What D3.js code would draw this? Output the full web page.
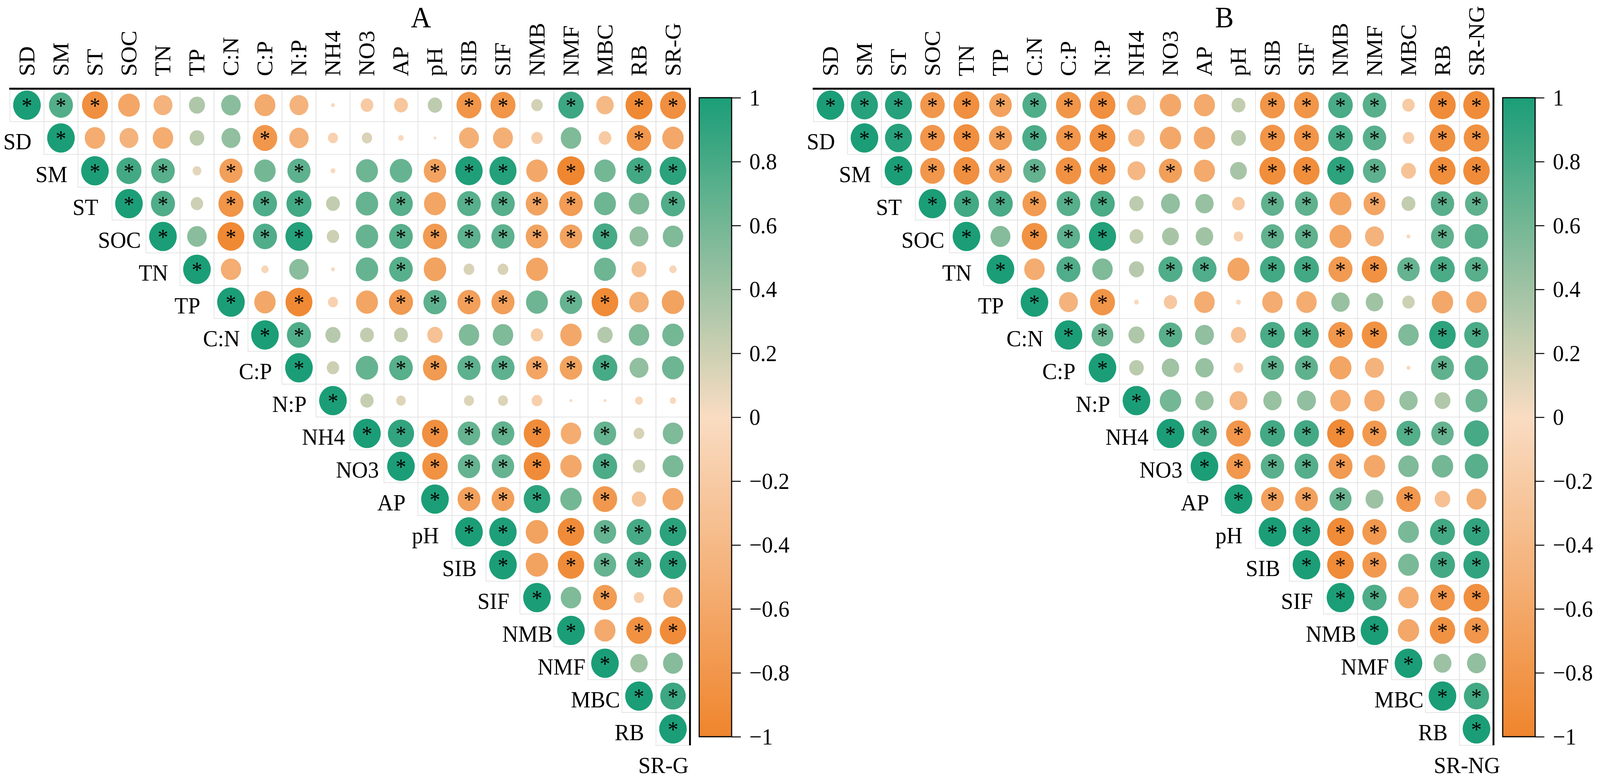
<!DOCTYPE html>
<html>
<head>
<meta charset="utf-8">
<script src="https://cdn.jsdelivr.net/npm/d3@7"></script>
<style>
  html, body { margin: 0; padding: 0; background: #fff; overflow: hidden; }
  svg { display: block; width: 100vw; height: 100vh; }
</style>
</head>
<body>
<script>
// variable names (columns), the last one differs per panel
varsA = ["SD","SM","ST","SOC","TN","TP","C:N","C:P","N:P","NH4","NO3","AP","pH","SIB","SIF","NMB","NMF","MBC","RB","SR-G"]
varsB = ["SD","SM","ST","SOC","TN","TP","C:N","C:P","N:P","NH4","NO3","AP","pH","SIB","SIF","NMB","NMF","MBC","RB","SR-NG"]

// upper triangle, row r starts at column r (diagonal)
corrA = [
  [1, 0.75, -0.88, -0.62, -0.47, 0.34, 0.5, -0.57, -0.47, -0.02, -0.21, -0.25, 0.27, -0.82, -0.82, 0.17, 0.85, -0.4, -0.95, -0.88],
  [1, -0.55, -0.47, -0.55, 0.28, 0.47, -0.79, -0.49, -0.13, 0.14, -0.04, -0.01, -0.52, -0.52, -0.17, 0.55, -0.21, -0.79, -0.6],
  [1, 0.82, 0.73, 0.1, -0.7, 0.6, 0.7, -0.03, 0.63, 0.66, -0.66, 0.98, 0.96, -0.6, -0.98, 0.6, 0.82, 0.93],
  [1, 0.76, 0.2, -0.82, 0.76, 0.82, 0.25, 0.66, 0.73, -0.63, 0.73, 0.73, -0.66, -0.73, 0.63, 0.55, 0.76],
  [1, 0.5, -0.95, 0.76, 0.96, 0.2, 0.66, 0.73, -0.76, 0.7, 0.7, -0.66, -0.66, 0.8, 0.47, 0.55],
  [1, -0.54, -0.07, 0.5, -0.02, 0.66, 0.73, -0.66, 0.15, 0.15, -0.63, 0, 0.63, -0.29, -0.07],
  [1, -0.6, -0.95, -0.13, -0.63, -0.76, 0.7, -0.7, -0.7, 0.63, 0.66, -0.93, -0.5, -0.66],
  [1, 0.76, 0.3, 0.25, 0.25, -0.31, 0.55, 0.55, -0.2, -0.6, 0.31, 0.55, 0.6],
  [1, 0.2, 0.66, 0.73, -0.76, 0.7, 0.7, -0.63, -0.66, 0.8, 0.47, 0.63],
  [1, 0.23, 0.12, 0, 0.13, 0.13, -0.15, -0.01, -0.01, -0.08, -0.05],
  [1, 0.9, -0.88, 0.66, 0.68, -0.92, -0.55, 0.66, 0.15, 0.55],
  [1, -0.85, 0.66, 0.66, -0.92, -0.6, 0.78, 0.2, 0.57],
  [1, -0.68, -0.68, 0.92, 0.6, -0.78, -0.27, -0.58],
  [1, 0.98, -0.66, -0.92, 0.66, 0.8, 0.93],
  [1, -0.66, -0.92, 0.66, 0.8, 0.93],
  [1, 0.55, -0.75, -0.14, -0.5],
  [1, -0.58, -0.85, -0.92],
  [1, 0.4, 0.52],
  [1, 0.85],
  [1]
]
sigA = [
  [1,1,1,0,0,0,0,0,0,0,0,0,0,1,1,0,1,0,1,1],
  [1,0,0,0,0,0,1,0,0,0,0,0,0,0,0,0,0,1,0],
  [1,1,1,0,1,0,1,0,0,0,1,1,1,0,1,0,1,1],
  [1,1,0,1,1,1,0,0,1,0,1,1,1,1,0,0,1],
  [1,0,1,1,1,0,0,1,1,1,1,1,1,1,0,0],
  [1,0,0,0,0,0,1,0,0,0,0,0,0,0,0],
  [1,0,1,0,0,1,1,1,1,0,1,1,0,0],
  [1,1,0,0,0,0,0,0,0,0,0,0,0],
  [1,0,0,1,1,1,1,1,1,1,0,0],
  [1,0,0,0,0,0,0,0,0,0,0],
  [1,1,1,1,1,1,0,1,0,0],
  [1,1,1,1,1,0,1,0,0],
  [1,1,1,1,0,1,0,0],
  [1,1,0,1,1,1,1],
  [1,0,1,1,1,1],
  [1,0,1,0,0],
  [1,0,1,1],
  [1,0,0],
  [1,1],
  [1]
]

corrB = [
  [1, 0.95, 0.95, -0.79, -0.88, -0.67, 0.76, -0.82, -0.88, -0.47, -0.6, -0.58, 0.25, -0.82, -0.82, 0.79, 0.73, -0.2, -0.92, -0.92],
  [1, 0.95, -0.8, -0.88, -0.7, 0.78, -0.8, -0.88, -0.36, -0.6, -0.6, 0.29, -0.82, -0.82, 0.8, 0.72, -0.17, -0.86, -0.86],
  [1, -0.79, -0.88, -0.7, 0.67, -0.85, -0.88, -0.42, -0.7, -0.58, 0.37, -0.9, -0.9, 0.92, 0.7, -0.29, -0.9, -0.92],
  [1, 0.83, 0.79, -0.75, 0.73, 0.79, 0.27, 0.47, 0.44, -0.21, 0.69, 0.69, -0.63, -0.63, 0.25, 0.72, 0.69],
  [1, 0.52, -0.85, 0.7, 0.97, 0.25, 0.37, 0.4, -0.12, 0.69, 0.69, -0.63, -0.47, -0.02, 0.69, 0.72],
  [1, -0.55, 0.76, 0.55, 0.3, 0.76, 0.76, -0.63, 0.82, 0.82, -0.76, -0.85, 0.66, 0.79, 0.72],
  [1, -0.47, -0.82, -0.03, -0.23, -0.55, -0.03, -0.55, -0.55, 0.44, 0.4, 0.2, -0.6, -0.55],
  [1, 0.62, 0.34, 0.72, 0.47, -0.3, 0.79, 0.79, -0.79, -0.85, 0.55, 0.92, 0.79],
  [1, 0.28, 0.4, 0.44, -0.12, 0.69, 0.69, -0.63, -0.47, -0.02, 0.69, 0.72],
  [1, 0.6, 0.44, -0.42, 0.44, 0.47, -0.55, -0.55, 0.44, 0.33, 0.63],
  [1, 0.8, -0.8, 0.82, 0.82, -0.93, -0.77, 0.75, 0.66, 0.8],
  [1, -0.78, 0.72, 0.74, -0.76, -0.6, 0.55, 0.6, 0.72],
  [1, -0.68, -0.68, 0.64, 0.42, -0.78, -0.32, -0.52],
  [1, 0.97, -0.93, -0.77, 0.57, 0.82, 0.9],
  [1, -0.93, -0.77, 0.57, 0.82, 0.9],
  [1, 0.77, -0.55, -0.8, -0.88],
  [1, -0.6, -0.85, -0.8],
  [1, 0.42, 0.47],
  [1, 0.83],
  [1]
]
sigB = [
  [1,1,1,1,1,1,1,1,1,0,0,0,0,1,1,1,1,0,1,1],
  [1,1,1,1,1,1,1,1,0,0,0,0,1,1,1,1,0,1,1],
  [1,1,1,1,1,1,1,0,1,0,0,1,1,1,1,0,1,1],
  [1,1,1,1,1,1,0,0,0,0,1,1,0,1,0,1,1],
  [1,0,1,1,1,0,0,0,0,1,1,0,0,0,1,0],
  [1,0,1,0,0,1,1,0,1,1,1,1,1,1,1],
  [1,0,1,0,0,0,0,0,0,0,0,0,0,0],
  [1,1,0,1,0,0,1,1,1,1,0,1,1],
  [1,0,0,0,0,1,1,0,0,0,1,0],
  [1,0,0,0,0,0,0,0,0,0,0],
  [1,1,1,1,1,1,1,1,1,0],
  [1,1,1,1,1,0,0,0,0],
  [1,1,1,1,0,1,0,0],
  [1,1,1,1,0,1,1],
  [1,1,1,0,1,1],
  [1,1,0,1,1],
  [1,0,1,1],
  [1,0,0],
  [1,1],
  [1]
]

legendTicks = [1, 0.8, 0.6, 0.4, 0.2, 0, -0.2, -0.4, -0.6, -0.8, -1]

width = 4341
height = 2006
n = varsA.length
matLeft = 27, matRight = 1872, matTop = 227, matBottom = 1907
fontSize = 60
serif = "Liberation Serif, Times New Roman, serif"

color = d3.scaleLinear().domain([-1, 0, 1]).range(["#EF852D", "#F9DCC2", "#1B9E77"])
radius = d3.scaleSqrt().domain([0, 1]).range([0, 37.5])

x = d3.scaleBand().domain(d3.range(n)).range([matLeft, matRight])
y = d3.scaleBand().domain(d3.range(n)).range([matTop, matBottom])
bw = x.bandwidth(), bh = y.bandwidth()

// stretch the drawing to whatever viewport the page gets
svg = d3.select("body").append("svg")
  .attr("viewBox", [0, 0, width, height])
  .attr("preserveAspectRatio", "none")
  .attr("font-family", serif)

svg.append("rect").attr("width", width).attr("height", height).attr("fill", "#fff")

// gradient for the colour legend
grad = svg.append("defs").append("linearGradient")
  .attr("id", "cbar")
  .attr("x1", 0).attr("y1", 0).attr("x2", 0).attr("y2", 1)
grad.selectAll("stop")
  .data(d3.range(20, -21, -1).map(d => d / 20))
  .join("stop")
    .attr("offset", d => (1 - d) / 2)
    .attr("stop-color", d => color(d))

function panel(dx, vars, corr, sig, title) {
  const g = svg.append("g").attr("transform", `translate(${dx},0)`)

  const cells = []
  corr.forEach((row, r) => row.forEach((v, k) => cells.push({r: r, c: r + k, v: v, s: sig[r][k]})))

  // cell grid
  g.append("g").selectAll("rect")
    .data(cells)
    .join("rect")
      .attr("x", d => x(d.c))
      .attr("y", d => y(d.r))
      .attr("width", bw)
      .attr("height", bh)
      .attr("fill", "none")
      .attr("stroke", "#e4e4e4")
      .attr("stroke-width", 2)

  // circles
  g.append("g").selectAll("circle")
    .data(cells)
    .join("circle")
      .attr("cx", d => x(d.c) + bw / 2)
      .attr("cy", d => y(d.r) + bh / 2)
      .attr("r", d => radius(Math.abs(d.v)))
      .attr("fill", d => color(d.v))

  // significance stars
  g.append("g").selectAll("text")
    .data(cells.filter(d => d.s))
    .join("text")
      .attr("x", d => x(d.c) + bw / 2)
      .attr("y", d => y(d.r) + bh / 2 + 21)
      .attr("text-anchor", "middle")
      .attr("font-size", 58)
      .attr("fill", "#000")
      .text("*")

  // frame: top and right
  g.append("line")
    .attr("x1", matLeft - 2).attr("x2", matRight + 2.5)
    .attr("y1", matTop).attr("y2", matTop)
    .attr("stroke", "#000").attr("stroke-width", 5)
  g.append("line")
    .attr("x1", matRight).attr("x2", matRight)
    .attr("y1", matTop).attr("y2", matBottom)
    .attr("stroke", "#000").attr("stroke-width", 5)

  // column labels
  g.append("g").selectAll("text")
    .data(vars)
    .join("text")
      .attr("transform", (d, i) => `translate(${x(i) + bw / 2 + 20},${matTop - 32}) rotate(-90)`)
      .attr("font-size", fontSize)
      .text(d => d)

  // row labels sit one row below, left of the diagonal
  g.append("g").selectAll("text")
    .data(vars)
    .join("text")
      .attr("x", (d, i) => matLeft + (i + 1) * bw - 72)
      .attr("y", (d, i) => matTop + (i + 1.5) * bh + 29)
      .attr("text-anchor", "middle")
      .attr("font-size", fontSize)
      .text(d => d)

  g.append("text")
    .attr("x", 1142)
    .attr("y", 70)
    .attr("text-anchor", "middle")
    .attr("font-size", 76)
    .text(title)

  // colour legend
  const cb = d3.scaleLinear().domain([1, -1]).range([250, 1885])
  g.append("rect")
    .attr("x", 1897).attr("y", cb(1))
    .attr("width", 88).attr("height", cb(-1) - cb(1))
    .attr("fill", "url(#cbar)")
    .attr("stroke", "#000").attr("stroke-width", 3)
  g.append("g")
    .attr("transform", "translate(1985,0)")
    .call(d3.axisRight(cb).tickValues(legendTicks).tickSize(25).tickPadding(23).tickFormat(d3.format("~g")))
    .call(a => a.select(".domain").remove())
    .call(a => a.selectAll(".tick line").attr("stroke", "#000").attr("stroke-width", 2.5))
    .call(a => a.selectAll(".tick text")
      .attr("font-family", serif)
      .attr("font-size", fontSize)
      .attr("fill", "#000"))
}

panel(0, varsA, corrA, sigA, "A")
panel(2180, varsB, corrB, sigB, "B")
</script>
</body>
</html>
